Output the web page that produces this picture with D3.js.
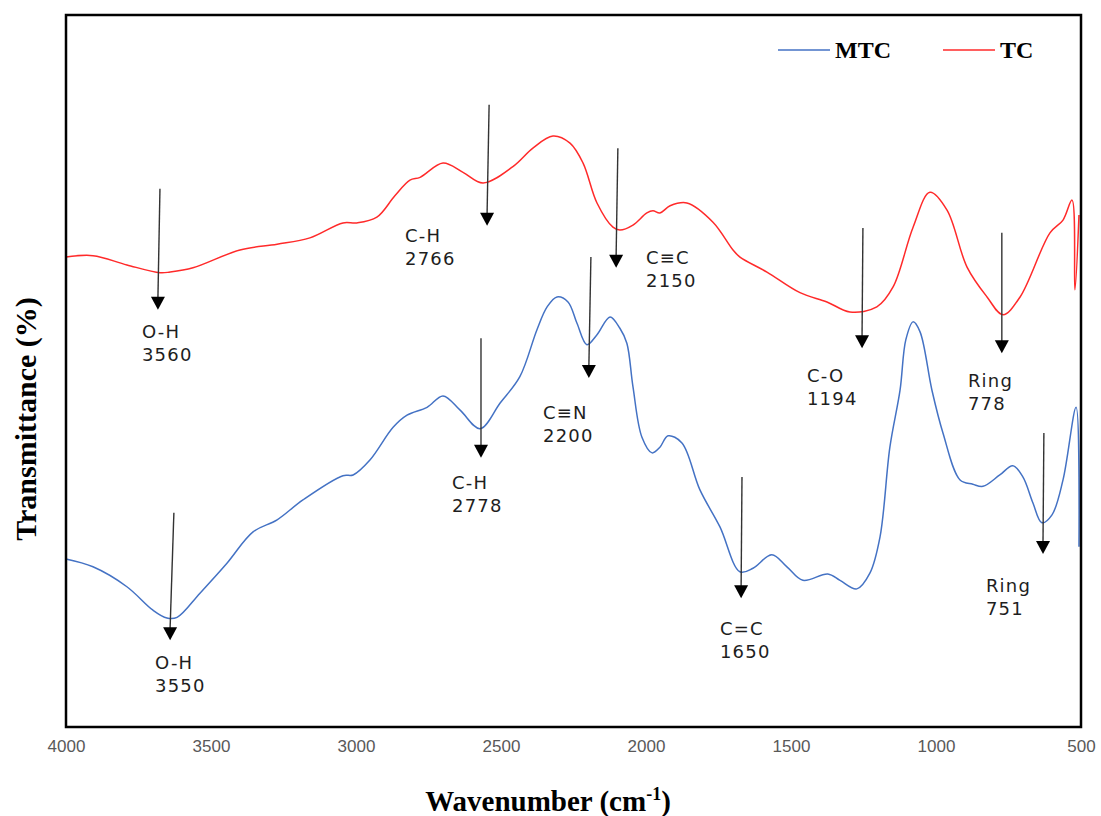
<!DOCTYPE html>
<html>
<head>
<meta charset="utf-8">
<script src="https://cdn.jsdelivr.net/npm/d3@7"></script>
<style>
  body { margin: 0; background: #fff; }
  svg { display: block; }
</style>
</head>
<body>
<div id="chart"></div>
<script>
// FTIR spectra, [wavenumber (cm-1), transmittance]
const tcData = [
  [4000, 66.0], [3907, 66.2], [3790, 64.9], [3676, 63.8], [3641, 63.9], [3562, 64.5],
  [3400, 67.0], [3272, 67.8], [3159, 68.7], [3045, 70.8], [2997, 70.8], [2928, 71.6],
  [2866, 74.6], [2814, 76.8], [2779, 77.2], [2700, 79.2], [2631, 77.9], [2562, 76.4],
  [2459, 78.7], [2390, 81.3], [2321, 83.0], [2262, 82.0], [2217, 79.2], [2169, 73.6],
  [2114, 70.2], [2090, 69.8], [2045, 70.5], [1997, 72.2], [1976, 72.5], [1952, 72.2],
  [1917, 73.2], [1859, 73.6], [1769, 70.9], [1700, 67.0], [1676, 66.0], [1583, 63.9],
  [1469, 61.0], [1376, 59.7], [1297, 58.3], [1204, 59.0], [1148, 61.8], [1079, 70.2],
  [1021, 75.1], [962, 72.6], [893, 64.6], [824, 60.4], [769, 57.9], [710, 60.4],
  [607, 69.4], [562, 71.2], [531, 74.0], [521, 61.4], [507, 71.9]
];

const mtcData = [
  [4000, 23.6], [3907, 22.5], [3790, 19.7], [3700, 16.4], [3652, 15.3], [3617, 15.4],
  [3538, 18.8], [3445, 23.0], [3355, 27.4], [3272, 29.1], [3183, 31.9], [3045, 35.3],
  [3010, 35.4], [2952, 37.5], [2872, 42.1], [2824, 43.8], [2755, 44.9], [2700, 46.5],
  [2641, 44.5], [2572, 41.9], [2503, 45.5], [2435, 49.2], [2376, 55.8], [2341, 59.0],
  [2307, 60.4], [2269, 59.7], [2238, 56.7], [2204, 53.7], [2169, 55.1], [2124, 57.6],
  [2090, 56.0], [2066, 53.9], [2045, 47.8], [2014, 40.7], [1979, 38.5], [1952, 39.3],
  [1924, 40.9], [1876, 39.9], [1814, 33.3], [1745, 28.1], [1676, 21.8], [1631, 22.3],
  [1566, 24.2], [1514, 22.5], [1459, 20.6], [1373, 21.5], [1331, 20.6], [1273, 19.4],
  [1228, 21.6], [1193, 26.7], [1159, 39.3], [1124, 47.3], [1104, 54.4], [1079, 56.9],
  [1055, 55.5], [1014, 47.3], [976, 41.3], [917, 34.7], [873, 34.1], [838, 33.8],
  [780, 35.4], [735, 36.7], [700, 35.1], [666, 31.5], [635, 28.7], [600, 29.8],
  [562, 34.7], [517, 44.9], [507, 25.3]
];

const seriesNames = ["MTC", "TC"];
const seriesColors = ["#4472C4", "#FF2A2A"];
const xTicks = [4000, 3500, 3000, 2500, 2000, 1500, 1000, 500];

// peak annotations: arrow top, arrow tip and label corner, all in data units
const peakLabels = [
  { group: "O-H", wave: "3560", top: [3676, 75.6], tip: [3683, 58.6], at: [3738, 55.5] },
  { group: "C-H", wave: "2766", top: [2541, 87.4], tip: [2548, 70.4], at: [2831, 69.0] },
  { group: "C≡C", wave: "2150", top: [2097, 81.3], tip: [2103, 64.5], at: [2000, 66.0] },
  { group: "C-O", wave: "1194", top: [1252, 70.1], tip: [1255, 53.2], at: [1445, 49.4] },
  { group: "Ring", wave: "778", top: [773, 69.4], tip: [773, 52.5], at: [890, 48.7] },
  { group: "O-H", wave: "3550", top: [3628, 30.1], tip: [3641, 12.2], at: [3693, 9.0] },
  { group: "C-H", wave: "2778", top: [2569, 54.6], tip: [2569, 37.8], at: [2669, 34.3] },
  { group: "C≡N", wave: "2200", top: [2190, 66.0], tip: [2197, 49.0], at: [2355, 44.1] },
  { group: "C=C", wave: "1650", top: [1669, 35.1], tip: [1672, 18.1], at: [1745, 13.9] },
  { group: "Ring", wave: "751", top: [628, 41.3], tip: [631, 24.3], at: [828, 19.9] }
];

const width = 1101, height = 816;
const plotLeft = 66, plotRight = 1081, plotTop = 15, plotBottom = 727;

const svg = d3.select("#chart").append("svg")
  .attr("width", width)
  .attr("height", height);

const x = d3.scaleLinear().domain([4000, 500]).range([plotLeft, plotRight]);
const y = d3.scaleLinear().domain([0, 100]).range([plotBottom, plotTop]);

// x axis labels only, the frame does the rest
svg.append("g")
  .attr("transform", "translate(0," + plotBottom + ")")
  .call(d3.axisBottom(x).tickValues(xTicks).tickSize(0).tickPadding(13).tickFormat(d3.format("d")))
  .call(g => g.select(".domain").remove())
  .selectAll("text")
  .attr("fill", "#595959")
  .style("font-family", "'Liberation Sans', Arial, sans-serif")
  .style("font-size", "17px");

const line = d3.line()
  .x(d => x(d[0]))
  .y(d => y(d[1]))
  .curve(d3.curveCatmullRom.alpha(0.5));

[mtcData, tcData].forEach((data, i) => {
  svg.append("path")
    .datum(data)
    .attr("fill", "none")
    .attr("stroke", seriesColors[i])
    .attr("stroke-width", 1.5)
    .attr("d", line);
});

// arrows and labels
const arrows = svg.append("g");
peakLabels.forEach(p => {
  const x0 = x(p.top[0]), y0 = y(p.top[1]);
  const x1 = x(p.tip[0]), y1 = y(p.tip[1]);
  const headH = 13, headW = 7;
  arrows.append("line")
    .attr("x1", x0).attr("y1", y0)
    .attr("x2", x1).attr("y2", y1 - headH + 1)
    .attr("stroke", "#333")
    .attr("stroke-width", 1.4);
  arrows.append("path")
    .attr("d", "M" + (x1 - headW) + "," + (y1 - headH) + "L" + (x1 + headW) + "," + (y1 - headH) + "L" + x1 + "," + y1 + "Z")
    .attr("fill", "#000");
  const t = arrows.append("text")
    .attr("x", x(p.at[0]))
    .attr("y", y(p.at[1]))
    .attr("fill", "#1e1e1e")
    .style("font-family", "'DejaVu Sans', Verdana, sans-serif")
    .style("font-size", "18px")
    .style("letter-spacing", "1.2px");
  t.append("tspan").attr("x", x(p.at[0])).attr("dy", "0.36em").text(p.group);
  t.append("tspan").attr("x", x(p.at[0])).attr("dy", 23).text(p.wave);
});

// frame
svg.append("rect")
  .attr("x", plotLeft).attr("y", plotTop)
  .attr("width", plotRight - plotLeft).attr("height", plotBottom - plotTop)
  .attr("fill", "none")
  .attr("stroke", "#000")
  .attr("stroke-width", 2.5);

// legend
const legendX = [778, 943];
seriesNames.forEach((name, i) => {
  const g = svg.append("g").attr("transform", "translate(" + legendX[i] + ",50)");
  g.append("line")
    .attr("x1", 0).attr("x2", 52)
    .attr("stroke", seriesColors[i])
    .attr("stroke-width", 1.5);
  g.append("text")
    .attr("x", 57).attr("y", 8)
    .style("font-family", "'Liberation Serif', 'Times New Roman', serif")
    .style("font-weight", "bold")
    .style("font-size", "24px")
    .text(name);
});

// axis titles
const xt = svg.append("text")
  .attr("x", 548).attr("y", 811)
  .attr("text-anchor", "middle")
  .style("font-family", "'Liberation Serif', 'Times New Roman', serif")
  .style("font-weight", "bold")
  .style("font-size", "29px");
xt.append("tspan").text("Wavenumber (cm");
xt.append("tspan").attr("dy", -11).style("font-size", "18px").text("-1");
xt.append("tspan").attr("dy", 11).text(")");

svg.append("text")
  .attr("transform", "translate(36,419) rotate(-90)")
  .attr("text-anchor", "middle")
  .style("font-family", "'Liberation Serif', 'Times New Roman', serif")
  .style("font-weight", "bold")
  .style("font-size", "30px")
  .text("Transmittance (%)");
</script>
</body>
</html>
